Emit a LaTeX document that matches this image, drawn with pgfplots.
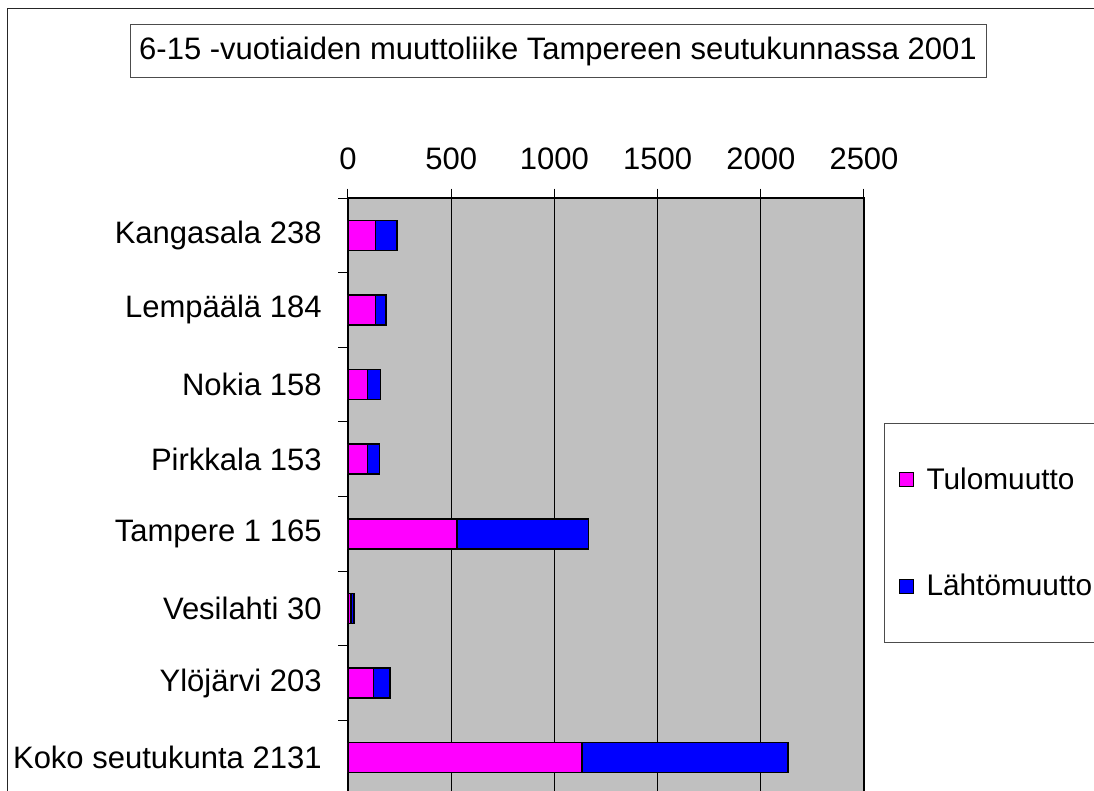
\documentclass[border=0pt]{standalone}
\usepackage{pgfplots}
\pgfplotsset{compat=1.18}
\usepackage{fontspec}
\setmainfont{Liberation Sans}
\definecolor{plotgray}{HTML}{C0C0C0}
\definecolor{tulo}{HTML}{FF00FF}
\definecolor{lahto}{HTML}{0000FF}
\newcommand{\chartfont}{\fontsize{15.5}{18}\selectfont}
\newcommand{\legendfont}{\fontsize{14.9}{17}\selectfont}
\pgfplotstableread{
idx tulo lahto
0 134 104
1 134 50
2 95 63
3 95 58
4 527 638
5 14 16
6 124 79
7 1133 998
}\datatable
\begin{document}
\begin{tikzpicture}[x=0.5pt,y=-0.5pt]
\useasboundingbox (0,0) rectangle (1094,791);
\clip (0,0) rectangle (1094,791);
\fill[white] (0,0) rectangle (1094,791);
\draw[line width=0.75pt, black!85] (7.5,8.5) rectangle (1300,1000);
\node[draw=black!70, line width=0.5pt, fill=white, inner sep=0pt,
  minimum width=428pt, minimum height=26.8pt, font=\chartfont] at (558,51)
  {6-15 -vuotiaiden muuttoliike Tampereen seutukunnassa 2001};
\coordinate (axisNW) at (348,198);
\begin{axis}[
  at={(axisNW)}, anchor=north west,
  scale only axis, width=258pt, height=298.5pt,
  xmin=0, xmax=2500, ymin=-0.5, ymax=7.5, y dir=reverse,
  xbar stacked, bar width=15pt,
  axis background/.style={fill=plotgray},
  axis line style={line width=0.6pt},
  xtick={0,500,...,2500},
  xtick pos=right, xticklabel pos=right,
  ytick pos=left,
  tick align=outside, major tick length=4.75pt,
  tick style={black, line width=0.5pt},
  ytick={-0.5,0.5,...,7.5}, yticklabels={},
  extra y ticks={0,1,2,3,4,5,6,7},
  extra y tick labels={Kangasala 238,Lempäälä 184,Nokia 158,Pirkkala 153,Tampere 1 165,Vesilahti 30,Ylöjärvi 203,Koko seutukunta 2131},
  extra y tick style={major tick length=0pt},
  xmajorgrids, grid style={black, line width=0.5pt},
  tick label style={font=\chartfont},
  /pgf/number format/assume math mode=true,
  /pgf/number format/1000 sep={},
  yticklabel style={inner sep=0pt, xshift=-13pt},
  xticklabel style={inner sep=0pt, yshift=9pt},
  legend style={at={(1.0388,0.623)}, anchor=north west, draw=black!70, fill=white,
    font=\legendfont, row sep=41pt, column sep=6.5pt, inner xsep=7pt, inner ysep=22pt,
    nodes={inner sep=0pt}, line width=0.5pt},
  legend cell align=left,
  legend image code/.code={\draw[#1, line width=0.5pt, draw=black] (0pt,-3.5pt) rectangle (7pt,3.5pt);},
]
\addplot[fill=tulo, draw=black, line width=0.8pt] table[x=tulo, y=idx] {\datatable};
\addplot[fill=lahto, draw=black, line width=0.8pt] table[x=lahto, y=idx] {\datatable};
\legend{Tulomuutto,Lähtömuutto}
\end{axis}
\end{tikzpicture}
\end{document}
